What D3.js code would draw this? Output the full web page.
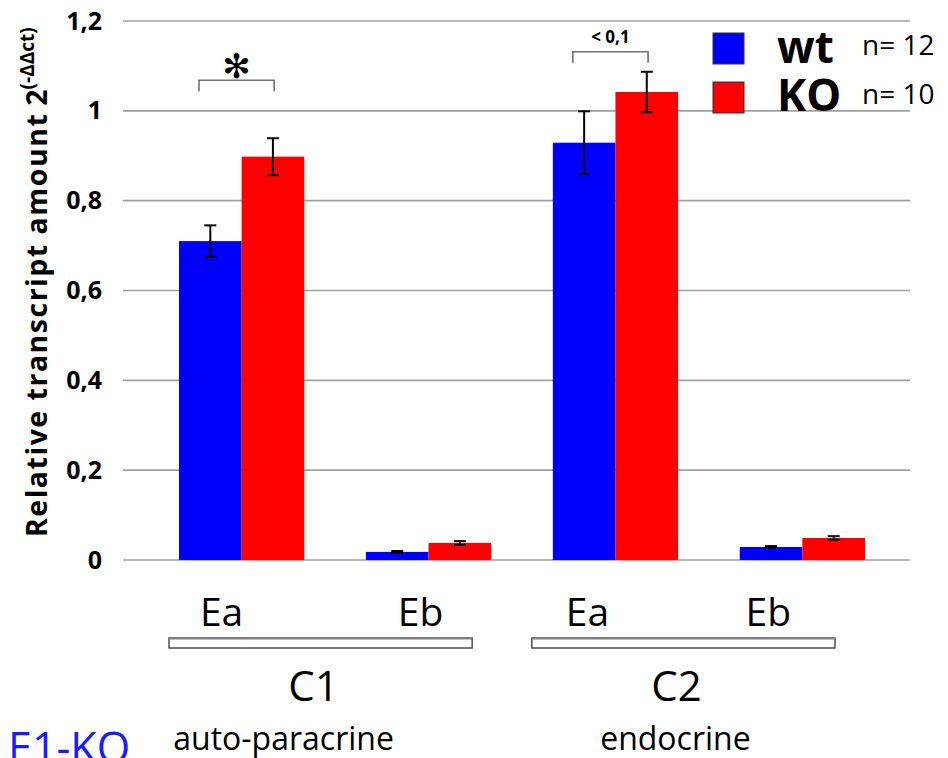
<!DOCTYPE html>
<html>
<head>
<meta charset="utf-8">
<script src="https://cdn.jsdelivr.net/npm/d3@7"></script>
<style>
  html, body { margin: 0; padding: 0; background: #fff; }
  svg { display: block; font-family: "Open Sans", "Noto Sans", sans-serif; }
</style>
</head>
<body>
<svg id="chart" width="948" height="758"></svg>
<script>
// Transcript levels per promoter region, genotype wt vs KO
const categories = ["C1 Ea", "C1 Eb", "C2 Ea", "C2 Eb"];
const categoryLabels = ["Ea", "Eb", "Ea", "Eb"];
const seriesNames = ["wt", "KO"];
const seriesCounts = ["n= 12", "n= 10"];
const wtValues = [0.71, 0.018, 0.929, 0.029];
const wtErrors = [0.035, 0.002, 0.07, 0.002];
const koValues = [0.898, 0.038, 1.042, 0.049];
const koErrors = [0.041, 0.004, 0.045, 0.004];
const yTicks = [0, 0.2, 0.4, 0.6, 0.8, 1, 1.2];
const groups = [
  { name: "C1", sub: "auto-paracrine", members: ["C1 Ea", "C1 Eb"] },
  { name: "C2", sub: "endocrine", members: ["C2 Ea", "C2 Eb"] }
];
const significance = [
  { category: "C1 Ea", text: "✻" },
  { category: "C2 Ea", text: "< 0,1" }
];

const colors = { wt: "#0000ff", KO: "#ff0000" };
const svg = d3.select("#chart");

// layout nudges for the hand-placed annotation row
const labelShift = [-20, -8, -28, -34];
const groupShift = [0, -11];
const subShift = [-37, -8];

const y = d3.scaleLinear().domain([0, 1.2]).range([560, 21]);
const x = d3.scaleBand().domain(categories).range([179, 865]).paddingInner(0.33).paddingOuter(0);
const xs = d3.scaleBand().domain(seriesNames).range([0, x.bandwidth()]).padding(0);

const rows = categories.map((c, i) => ({
  category: c,
  label: categoryLabels[i],
  idx: i,
  values: [
    { s: "wt", v: wtValues[i], e: wtErrors[i] },
    { s: "KO", v: koValues[i], e: koErrors[i] }
  ]
}));

// gridlines
const gridLeft = 123, gridRight = 910;
svg.append("g").selectAll("line").data(yTicks).join("line")
  .attr("x1", gridLeft).attr("x2", gridRight)
  .attr("y1", d => y(d)).attr("y2", d => y(d))
  .attr("stroke", "#a0a0a0").attr("stroke-width", 1.6);

// y axis labels
const yAxis = d3.axisLeft(y).tickValues(yTicks).tickSize(0).tickPadding(0)
  .tickFormat(d => d3.format(".1~f")(d).replace(".", ","));
const ya = svg.append("g").attr("transform", "translate(102,0)").call(yAxis);
ya.select(".domain").remove();
ya.selectAll("text").attr("font-size", 25).attr("font-weight", 700)
  .attr("fill", "#000").attr("font-family", "'Open Sans', sans-serif");

// y title
const yt = svg.append("text")
  .attr("transform", "translate(47,537) rotate(-90)")
  .attr("font-size", 28.5).attr("font-weight", 700).attr("fill", "#000");
yt.append("tspan").attr("letter-spacing", 1.5).text("Relative transcript amount");
yt.append("tspan").attr("dx", 7).text("2");
yt.append("tspan").attr("font-size", 19).attr("dy", -13).text("(-ΔΔct)");

// bars
const g = svg.append("g").selectAll("g").data(rows).join("g")
  .attr("transform", d => `translate(${x(d.category)},0)`);
g.selectAll("rect").data(d => d.values).join("rect")
  .attr("x", d => xs(d.s)).attr("width", xs.bandwidth())
  .attr("y", d => y(d.v)).attr("height", d => y(0) - y(d.v))
  .attr("fill", d => colors[d.s]);

// error bars
const eb = g.selectAll("g.err").data(d => d.values).join("g").attr("class", "err")
  .attr("stroke", "#000").attr("stroke-width", 2);
const cx = d => xs(d.s) + xs.bandwidth() * 0.5;
eb.append("line").attr("x1", cx).attr("x2", cx)
  .attr("y1", d => y(d.v + d.e)).attr("y2", d => y(d.v - d.e));
eb.append("line").attr("x1", d => cx(d) - 6).attr("x2", d => cx(d) + 6)
  .attr("y1", d => y(d.v + d.e)).attr("y2", d => y(d.v + d.e));
eb.append("line").attr("x1", d => cx(d) - 6).attr("x2", d => cx(d) + 6)
  .attr("y1", d => y(d.v - d.e)).attr("y2", d => y(d.v - d.e));

// significance brackets
significance.forEach(sg => {
  const i = categories.indexOf(sg.category);
  const top = Math.max(wtValues[i] + wtErrors[i], koValues[i] + koErrors[i]);
  const star = sg.text === "✻";
  const by = y(top) - (star ? 58 : 20);
  const x0 = x(sg.category) + 20, x1 = x(sg.category) + x.bandwidth() - 30;
  svg.append("path")
    .attr("d", `M${x0},${by + 11}V${by}H${x1}V${by + 11}`)
    .attr("fill", "none").attr("stroke", "#707070").attr("stroke-width", 1.6);
  if (star) {
    svg.append("text").attr("x", (x0 + x1) / 2).attr("y", by - 2)
      .attr("text-anchor", "middle").attr("font-size", 34)
      .attr("font-family", "'DejaVu Sans', sans-serif").attr("fill", "#000").text(sg.text);
  } else {
    svg.append("text").attr("x", (x0 + x1) / 2).attr("y", by - 9)
      .attr("text-anchor", "middle").attr("font-size", 17).attr("font-weight", 700)
      .attr("fill", "#000").text(sg.text);
  }
});

// category labels
svg.append("g").selectAll("text").data(rows).join("text")
  .attr("x", d => x(d.category) + x.bandwidth() / 2 + labelShift[d.idx]).attr("y", 626)
  .attr("text-anchor", "middle").attr("font-size", 39).attr("fill", "#000")
  .text(d => d.label);

// group brackets and names
groups.forEach((gr, gi) => {
  const a = x(gr.members[0]) - 10 + groupShift[gi];
  const b = x(gr.members[gr.members.length - 1]) + x.bandwidth() - 19 + groupShift[gi];
  svg.append("rect").attr("x", a).attr("y", 638).attr("width", b - a).attr("height", 10)
    .attr("fill", "#fff").attr("stroke", "#333").attr("stroke-width", 1.3);
  svg.append("line").attr("x1", a).attr("x2", b).attr("y1", 638.5).attr("y2", 638.5)
    .attr("stroke", "#808080").attr("stroke-width", 2);
  const mid = (a + b) / 2;
  svg.append("text").attr("x", mid - 7).attr("y", 701).attr("text-anchor", "middle")
    .attr("font-size", 42).attr("fill", "#000").text(gr.name);
  svg.append("text").attr("x", mid + subShift[gi]).attr("y", 750)
    .attr("text-anchor", "middle").attr("font-size", 32).attr("fill", "#000").text(gr.sub);
});

// legend
const lg = svg.append("g").attr("transform", "translate(713,33)");
seriesNames.forEach((s, i) => {
  const row = lg.append("g").attr("transform", `translate(0,${i * 49})`);
  row.append("rect").attr("width", 31).attr("height", 31)
    .attr("fill", colors[s]).attr("stroke", "#333").attr("stroke-width", 1);
  row.append("text").attr("x", 64).attr("y", 30 + (i === 1 ? -1 : 0))
    .attr("font-size", 44).attr("font-weight", 700).attr("fill", "#000").text(s);
  row.append("text").attr("x", 149).attr("y", 22)
    .attr("font-size", 28).attr("fill", "#000").text(seriesCounts[i]);
});

// figure title, cut by the page edge
svg.append("text").attr("x", 8).attr("y", 763).attr("font-size", 43)
  .attr("fill", "#1a1aff").text("E1-KO");
</script>
</body>
</html>
